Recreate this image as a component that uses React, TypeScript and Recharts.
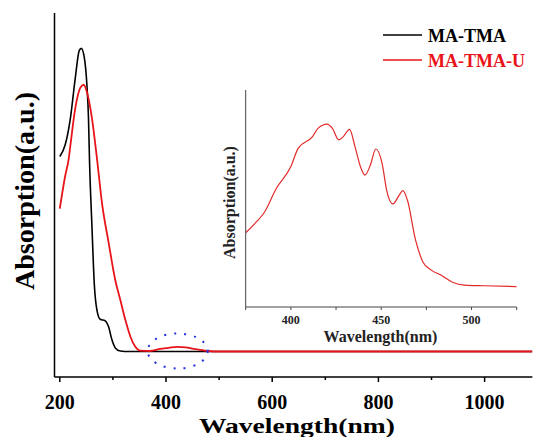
import { LineChart, Line, XAxis, YAxis, ReferenceDot } from "recharts";

const FONT = '"Liberation Serif", "Times New Roman", serif';

// MA-TMA spectrum (wavelength in nm, absorption in a.u.)
const blackNm = [200, 210, 220, 229, 236.7, 240.5, 246.5, 251, 254, 256, 260.5, 265, 270, 276, 285.5, 292, 298, 304.5, 314, 330, 500, 800, 1090];
const blackAbs = [2.12, 2.23, 2.49, 2.87, 3.14, 3.16, 3.06, 2.81, 2.49, 2.07, 1.45, 0.89, 0.64, 0.555, 0.54, 0.48, 0.36, 0.28, 0.25, 0.245, 0.245, 0.245, 0.245];

// MA-TMA-U spectrum
const redNm = [200, 210, 216.5, 220, 229, 238.5, 245, 251, 260.5, 270, 279.5, 292, 304.5, 314, 323.4, 332.8, 342.2, 351.6, 370, 389, 405, 421, 437, 452, 466, 480, 500, 800, 1090];
const redAbs = [1.62, 1.93, 2.09, 2.23, 2.58, 2.78, 2.81, 2.74, 2.49, 2.1, 1.67, 1.29, 0.93, 0.74, 0.55, 0.39, 0.29, 0.253, 0.25, 0.27, 0.28, 0.29, 0.285, 0.27, 0.26, 0.25, 0.245, 0.245, 0.245];

// MA-TMA-U visible band, enlarged
const insetNm = [375, 381, 385, 392, 400, 404, 412, 415, 420, 423, 426.5, 429, 432.5, 435.5, 438.5, 441, 444, 447, 450.5, 453, 456.5, 460, 462, 464.5, 469, 473, 477.5, 483, 489.5, 496, 507, 525];
const insetAbs = [0.342, 0.393, 0.432, 0.547, 0.647, 0.731, 0.785, 0.823, 0.843, 0.823, 0.77, 0.785, 0.819, 0.739, 0.647, 0.608, 0.654, 0.728, 0.662, 0.539, 0.475, 0.516, 0.536, 0.493, 0.309, 0.209, 0.171, 0.147, 0.114, 0.101, 0.098, 0.094];

const mainTicks = [200, 300, 400, 500, 600, 700, 800, 900, 1000];
const mainLabels = [200, 400, 600, 800, 1000];
const insetTicks = [375, 400, 425, 450, 475, 500, 525];
const insetLabels = [400, 450, 500];

const seriesNames = ["MA-TMA", "MA-TMA-U"];
const seriesColors = ["#000000", "#e8141a"];

const zip = (xs: number[], ys: number[]) => xs.map((nm, i) => ({ nm, a: ys[i] }));

function MainTick(props: any) {
  const { x, y, payload } = props;
  const major = mainLabels.includes(payload.value);
  return (
    <g>
      <line x1={x} x2={x} y1={y} y2={y + (major ? 5 : 3)} stroke="#000" strokeWidth={1.5} />
      {major && (
        <text x={x} y={y + 32} textAnchor="middle" fontFamily={FONT} fontWeight="bold" fontSize={20} fill="#000">
          {payload.value}
        </text>
      )}
    </g>
  );
}

function InsetTick(props: any) {
  const { x, y, payload } = props;
  const labelled = insetLabels.includes(payload.value);
  return (
    <g>
      <line x1={x} x2={x} y1={y} y2={y + 3} stroke="#444" strokeWidth={1} />
      {labelled && (
        <text x={x} y={y + 17} textAnchor="middle" fontFamily={FONT} fontWeight="bold" fontSize={12} fill="#222">
          {payload.value}
        </text>
      )}
    </g>
  );
}

function DottedRing(props: any) {
  return (
    <ellipse cx={props.cx} cy={props.cy} rx={30} ry={17.5} fill="none" stroke="#2233dd" strokeWidth={2} strokeDasharray="2 8" />
  );
}

function MainChart() {
  return (
    <LineChart width={533} height={437} margin={{ top: 13, right: 0.6, bottom: 30, left: 24.5 }}>
      <XAxis
        type="number"
        dataKey="nm"
        domain={[190, 1090]}
        ticks={mainTicks}
        interval={0}
        height={30}
        tickLine={false}
        tickSize={0}
        tickMargin={0}
        tick={<MainTick />}
        axisLine={{ stroke: "#000", strokeWidth: 1.5 }}
        allowDataOverflow
      />
      <YAxis type="number" domain={[0, 3.5]} width={30} tick={false} tickLine={false} axisLine={{ stroke: "#000", strokeWidth: 1.5 }} />
      <Line data={zip(blackNm, blackAbs)} dataKey="a" name={seriesNames[0]} type="monotone" stroke={seriesColors[0]} strokeWidth={1.6} dot={false} isAnimationActive={false} />
      <Line data={zip(redNm, redAbs)} dataKey="a" name={seriesNames[1]} type="monotone" stroke={seriesColors[1]} strokeWidth={1.8} dot={false} isAnimationActive={false} />
      <ReferenceDot x={422} y={0.25} shape={<DottedRing />} />
    </LineChart>
  );
}

function InsetChart() {
  return (
    <LineChart width={533} height={437} margin={{ top: 90, right: 16.3, bottom: 100, left: 215.7 }}>
      <XAxis
        type="number"
        dataKey="nm"
        domain={[375, 525]}
        ticks={insetTicks}
        interval={0}
        height={30}
        tickLine={false}
        tickSize={0}
        tickMargin={0}
        tick={<InsetTick />}
        axisLine={{ stroke: "#444", strokeWidth: 1 }}
        allowDataOverflow
      />
      <YAxis type="number" domain={[0, 1]} width={30} tick={false} tickLine={false} axisLine={{ stroke: "#444", strokeWidth: 1 }} />
      <Line data={zip(insetNm, insetAbs)} dataKey="a" type="monotone" stroke="#e32a2a" strokeWidth={1.2} dot={false} isAnimationActive={false} />
    </LineChart>
  );
}

export default function App() {
  const layer: React.CSSProperties = { position: "absolute", left: 0, top: 0 };
  return (
    <div style={{ position: "absolute", left: 0, top: 0, width: 533, height: 437, overflow: "hidden", background: "#fff" }}>
      <div style={layer}>
        <MainChart />
      </div>
      <div style={layer}>
        <InsetChart />
      </div>
      <svg style={{ ...layer, pointerEvents: "none" }} width={533} height={437} fontFamily={FONT} fontWeight="bold">
        <text x={199} y={433.3} fontSize={22} textLength={196} lengthAdjust="spacingAndGlyphs" fill="#000">
          Wavelength(nm)
        </text>
        <text x={34.3} y={290} transform="rotate(-90 34.3 290)" fontSize={27} textLength={198} lengthAdjust="spacingAndGlyphs" fill="#000">
          Absorption(a.u.)
        </text>
        <text x={380.5} y={341.5} textAnchor="middle" fontSize={16} fill="#222">
          Wavelength(nm)
        </text>
        <text x={235} y={202.5} transform="rotate(-90 235 202.5)" textAnchor="middle" fontSize={16} fill="#222">
          Absorption(a.u.)
        </text>
        {seriesNames.map((name, i) => (
          <g key={name}>
            <line x1={383} x2={422} y1={35 + i * 25} y2={35 + i * 25} stroke={seriesColors[i]} strokeWidth={1.6} />
            <text x={428} y={41.7 + i * 25} fontSize={18} fill={seriesColors[i]}>
              {name}
            </text>
          </g>
        ))}
      </svg>
    </div>
  );
}
